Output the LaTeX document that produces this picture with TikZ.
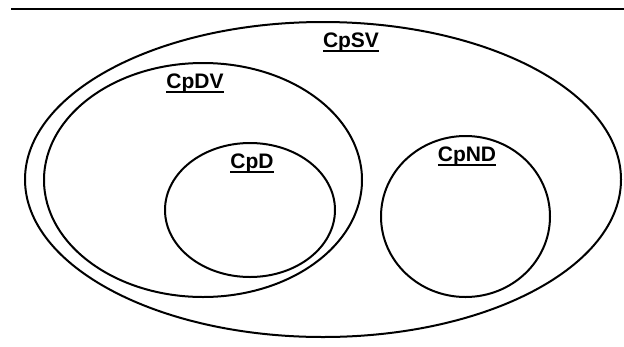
\documentclass[tikz,border=0pt]{standalone}
\usepackage{fontspec}
\setmainfont{Liberation Sans}
\newcommand\myul[1]{\setbox0\hbox{#1}\rlap{\rule[-5pt]{\wd0}{2pt}}\box0}
\begin{document}
\begin{tikzpicture}[x=1pt,y=-1pt,
  set/.style={draw=black,line width=2pt},
  lbl/.style={font=\fontsize{21}{24}\selectfont\bfseries,anchor=base,inner sep=0pt}]
\useasboundingbox (0,0) rectangle (624,346);
\coordinate (l1) at (11,9);
\coordinate (l2) at (624,9);
\draw[line width=1.5pt] (l1) -- (l2);
\draw[set] (323,179.5) ellipse [x radius=298, y radius=157.5];
\draw[set] (203,180) ellipse [x radius=159, y radius=117];
\draw[set] (250,210) ellipse [x radius=85, y radius=67];
\draw[set] (465.5,216.5) ellipse [x radius=84.5, y radius=80.5];
\node[lbl] (tsv) at (351,47) {\myul{CpSV}};
\node[lbl] (tdv) at (195,88) {\myul{CpDV}};
\node[lbl] (td) at (252,168) {\myul{CpD}};
\node[lbl] (tnd) at (467,161) {\myul{CpND}};
\end{tikzpicture}
\end{document}
